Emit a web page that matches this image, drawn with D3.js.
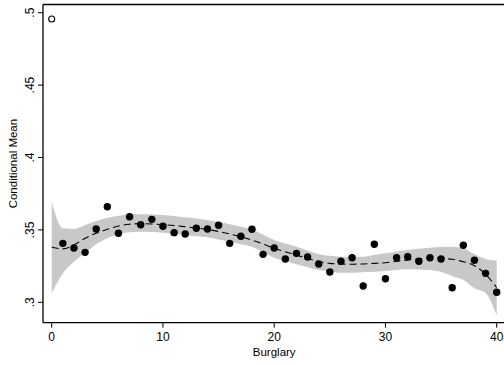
<!DOCTYPE html>
<html lang="en">
<head>
<meta charset="UTF-8">
<title>Conditional Mean by Burglary</title>
<style>
    body { margin: 0; background: #fff; }
    svg text { font-family: "Liberation Sans", Arial, sans-serif; fill: #000; }
    .axis path, .axis line { stroke: #000; }
</style>
<script src="https://d3js.org/d3.v7.min.js"></script>
</head>
<body>
<script>
// observed conditional means by burglary count (x = 0 is the outlier drawn hollow)
const burglary = d3.range(0, 41);
const condMean = [0.4956, 0.3407, 0.3375, 0.3345, 0.3506, 0.3660, 0.3477, 0.3591, 0.3536, 0.3573,
    0.3525, 0.3481, 0.3472, 0.3511, 0.3506, 0.3532, 0.3407, 0.3456, 0.3504, 0.3331,
    0.3375, 0.3299, 0.3338, 0.3313, 0.3265, 0.3209, 0.3283, 0.3308, 0.3113, 0.3401,
    0.3163, 0.3308, 0.3315, 0.3283, 0.3308, 0.3299, 0.3101, 0.3394, 0.3290, 0.3200, 0.3069];

// local polynomial fit and its confidence band
const fitMean = [0.3380, 0.3369, 0.3396, 0.3442, 0.3477, 0.3504, 0.3527, 0.3539, 0.3543, 0.3541,
    0.3536, 0.3530, 0.3522, 0.3513, 0.3503, 0.3489, 0.3472, 0.3452, 0.3430, 0.3403,
    0.3373, 0.3349, 0.3327, 0.3302, 0.3282, 0.3269, 0.3265, 0.3263, 0.3265, 0.3269,
    0.3273, 0.3283, 0.3292, 0.3299, 0.3304, 0.3302, 0.3297, 0.3280, 0.3253, 0.3193, 0.3102];
const ciUpper = [0.3695, 0.3511, 0.3506, 0.3534, 0.3561, 0.3584, 0.3598, 0.3606, 0.3608, 0.3606,
    0.3603, 0.3596, 0.3587, 0.3579, 0.3568, 0.3555, 0.3539, 0.3521, 0.3503, 0.3468,
    0.3430, 0.3406, 0.3384, 0.3358, 0.3331, 0.3321, 0.3315, 0.3314, 0.3315, 0.3327,
    0.3338, 0.3351, 0.3361, 0.3370, 0.3377, 0.3382, 0.3384, 0.3373, 0.3332, 0.3299, 0.3288];
const ciLower = [0.3062, 0.3200, 0.3280, 0.3338, 0.3401, 0.3442, 0.3470, 0.3483, 0.3488, 0.3486,
    0.3481, 0.3473, 0.3465, 0.3456, 0.3449, 0.3434, 0.3419, 0.3401, 0.3384, 0.3347,
    0.3308, 0.3285, 0.3262, 0.3242, 0.3223, 0.3213, 0.3204, 0.3204, 0.3207, 0.3211,
    0.3216, 0.3223, 0.3228, 0.3227, 0.3223, 0.3209, 0.3182, 0.3154, 0.3097, 0.3064, 0.2909];

const xTicks = [0, 10, 20, 30, 40];
const yTicks = [0.3, 0.35, 0.4, 0.45, 0.5];
const yTickLabels = [".3", ".35", ".4", ".45", ".5"];

const width = 504, height = 365;
const frame = { left: 43, top: 4.5, bottom: 322.7, right: 504 };

const svg = d3.select("body").append("svg")
    .attr("width", width)
    .attr("height", height);

const x = d3.scaleLinear().domain([0, 40]).range([51.7, 496.7]);
const y = d3.scaleLinear().domain([0.3, 0.5]).range([302.3, 12.7]);

// CI band
const band = burglary.map((b, i) => ({ b, lo: ciLower[i], hi: ciUpper[i] }));
svg.append("path")
    .datum(band)
    .attr("fill", "#c8c8c8")
    .attr("d", d3.area()
        .x(d => x(d.b))
        .y0(d => y(d.lo))
        .y1(d => y(d.hi))
        .curve(d3.curveMonotoneX));

// fitted line
svg.append("path")
    .datum(burglary.map((b, i) => ({ b, v: fitMean[i] })))
    .attr("fill", "none")
    .attr("stroke", "#000")
    .attr("stroke-width", 1.1)
    .attr("stroke-dasharray", "7,4")
    .attr("d", d3.line()
        .x(d => x(d.b))
        .y(d => y(d.v))
        .curve(d3.curveMonotoneX));

// points
const pts = burglary.map((b, i) => ({ b, v: condMean[i] }));
svg.append("g").selectAll("circle")
    .data(pts).enter().append("circle")
    .attr("cx", d => x(d.b))
    .attr("cy", d => y(d.v))
    .attr("r", d => d.b === 0 ? 3 : 3.7)
    .attr("fill", d => d.b === 0 ? "#fff" : "#000")
    .attr("stroke", "#000")
    .attr("stroke-width", d => d.b === 0 ? 1.1 : 0);

// frame lines (left, top, bottom)
svg.append("line")
    .attr("x1", frame.left).attr("x2", frame.right)
    .attr("y1", frame.top).attr("y2", frame.top)
    .attr("stroke", "#000").attr("stroke-width", 1.3);

// x axis
const xAxis = svg.append("g").attr("class", "axis");
xAxis.append("line")
    .attr("x1", frame.left).attr("x2", frame.right)
    .attr("y1", frame.bottom).attr("y2", frame.bottom)
    .attr("stroke-width", 1.3);
xAxis.selectAll(".tick").data(xTicks).enter().append("line")
    .attr("x1", d => x(d)).attr("x2", d => x(d))
    .attr("y1", frame.bottom).attr("y2", frame.bottom + 5)
    .attr("stroke-width", 1);
xAxis.selectAll("text").data(xTicks).enter().append("text")
    .attr("x", d => x(d))
    .attr("y", 341)
    .attr("text-anchor", "middle")
    .style("font-size", "12px")
    .text(d => d);

svg.append("text")
    .attr("x", x(20))
    .attr("y", 356)
    .attr("text-anchor", "middle")
    .style("font-size", "11.5px")
    .text("Burglary");

// y axis
const yAxis = svg.append("g").attr("class", "axis");
yAxis.append("line")
    .attr("x1", frame.left).attr("x2", frame.left)
    .attr("y1", frame.top).attr("y2", frame.bottom)
    .attr("stroke-width", 1.3);
yAxis.selectAll(".tick").data(yTicks).enter().append("line")
    .attr("x1", frame.left - 5).attr("x2", frame.left)
    .attr("y1", d => y(d)).attr("y2", d => y(d))
    .attr("stroke-width", 1);
yAxis.selectAll("text").data(yTicks).enter().append("text")
    .attr("transform", d => `translate(34,${y(d)}) rotate(-90)`)
    .attr("text-anchor", "middle")
    .style("font-size", "12px")
    .text((d, i) => yTickLabels[i]);

svg.append("text")
    .attr("transform", `translate(17,${(frame.top + frame.bottom) / 2}) rotate(-90)`)
    .attr("text-anchor", "middle")
    .style("font-size", "11.5px")
    .text("Conditional Mean");
</script>
</body>
</html>
